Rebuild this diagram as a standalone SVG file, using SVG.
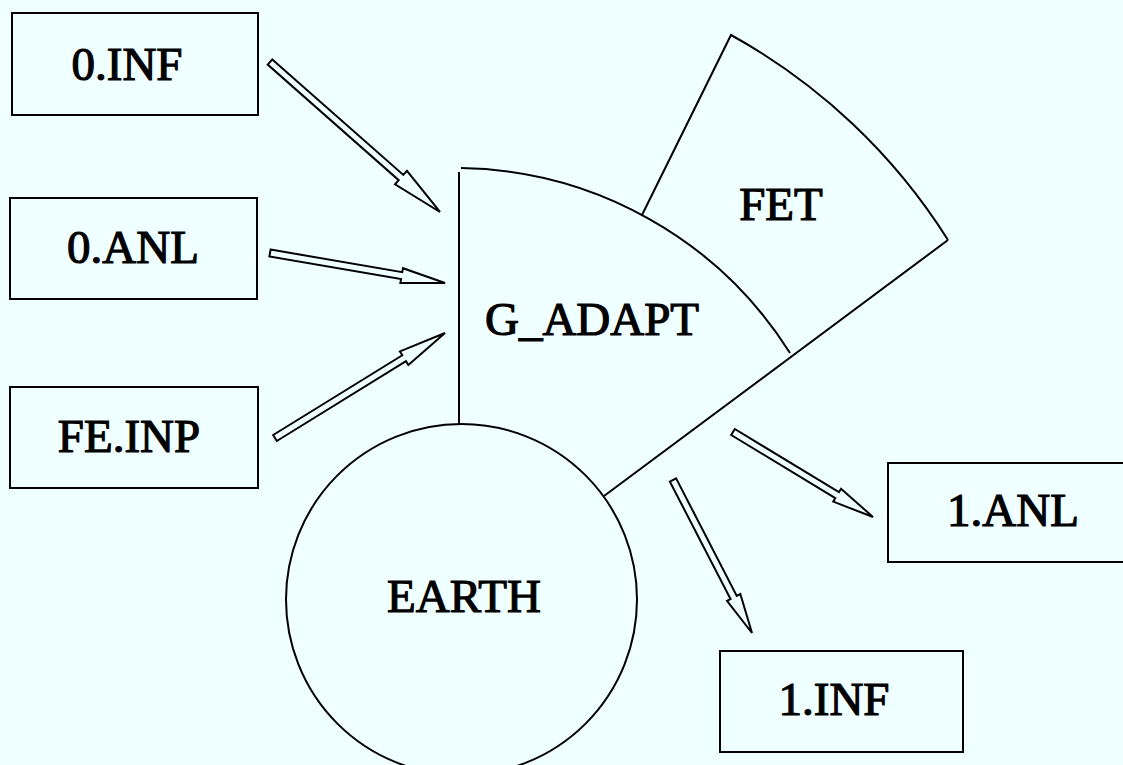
<svg xmlns="http://www.w3.org/2000/svg" width="1123" height="765" viewBox="0 0 1123 765">
<style>
.bg{fill:#F0FFFF}
.box{fill:none;stroke:#000;stroke-width:2}
.sh{fill:none;stroke:#000;stroke-width:2;stroke-linejoin:miter}
.arr{fill:none;stroke:#000;stroke-width:2;stroke-linejoin:miter}
.lbl{font-family:"Liberation Serif","Times New Roman",serif;font-size:47px;fill:#000;stroke:#000;stroke-width:1.2;text-anchor:middle}
</style>
<rect class="bg" x="0" y="0" width="1123" height="765"/>
<g id="n-0INF"><rect class="box" x="12" y="13" width="246" height="102"/><text class="lbl" x="127" y="80">0.INF</text></g>
<g id="n-0ANL"><rect class="box" x="10" y="198" width="247" height="101"/><text class="lbl" x="133" y="263">0.ANL</text></g>
<g id="n-FEINP"><rect class="box" x="10" y="387" width="248" height="101"/><text class="lbl" x="129" y="452">FE.INP</text></g>
<g id="n-1ANL"><rect class="box" x="888" y="463" width="240" height="99"/><text class="lbl" x="1013" y="526">1.ANL</text></g>
<g id="n-1INF"><rect class="box" x="720" y="651" width="243" height="101"/><text class="lbl" x="834" y="715">1.INF</text></g>
<g id="n-EARTH"><circle class="sh" cx="461.5" cy="599.5" r="175.5"/><text class="lbl" x="464" y="612">EARTH</text></g>
<g id="n-GADAPT"><path class="sh" d="M459,172 L459,424 M461,168 A396,396 0 0 1 790,353 M948,240 L604,496"/><text class="lbl" x="592" y="335">G_ADAPT</text></g>
<g id="n-FET"><path class="sh" d="M642,215 L731,35 A598,598 0 0 1 948,240"/><text class="lbl" x="781" y="220">FET</text></g>
<g id="connectors">
<polygon class="arr" transform="translate(270,62) rotate(41.42)" points="0,-3.5 174.7,-3.5 174.7,-9 226.7,0 174.7,9 174.7,3.5 0,3.5"/>
<polygon class="arr" transform="translate(270,253) rotate(9.73)" points="0,-3.5 133.6,-3.5 133.6,-7.5 177.6,0 133.6,7.5 133.6,3.5 0,3.5"/>
<polygon class="arr" transform="translate(275,438) rotate(-31.70)" points="0,-3.5 151.8,-3.5 151.8,-8 199.8,0 151.8,8 151.8,3.5 0,3.5"/>
<polygon class="arr" transform="translate(733,432) rotate(31.26)" points="0,-3.5 121.8,-3.5 121.8,-7.5 163.8,0 121.8,7.5 121.8,3.5 0,3.5"/>
<polygon class="arr" transform="translate(673,480) rotate(62.69)" points="0,-3.5 132.2,-3.5 132.2,-7.5 172.2,0 132.2,7.5 132.2,3.5 0,3.5"/>
</g>
</svg>
